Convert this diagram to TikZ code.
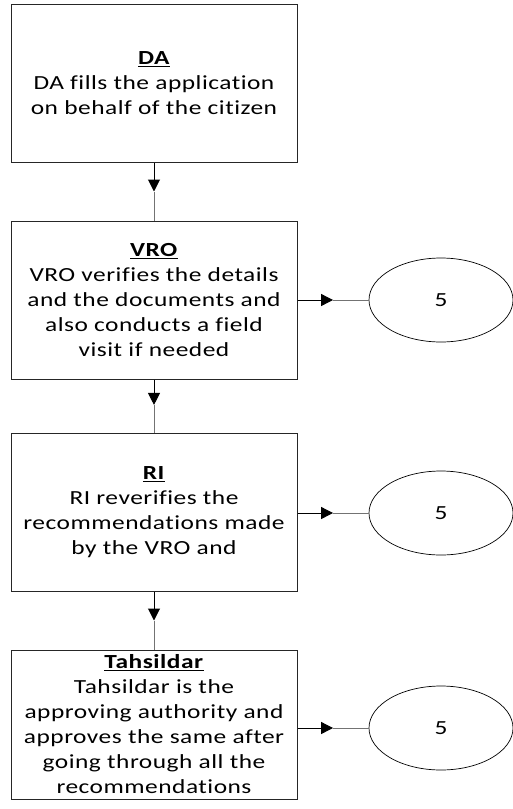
\documentclass[tikz,border=0pt]{standalone}
\usepackage{fontspec}
\setmainfont{Carlito}[FakeStretch=1.27,LetterSpace=2.5,Ligatures=NoCommon]
\usetikzlibrary{arrows.meta,calc,shapes.geometric}
\begin{document}
\begin{tikzpicture}[x=1pt,y=-1pt,
  stepbox/.style={draw=black!85,line width=1pt,minimum width=286pt,inner sep=0pt,
    align=center,font=\fontsize{20}{25}\selectfont},
  endoval/.style={draw=black,line width=0.7pt,ellipse,minimum width=144pt,minimum height=84pt,inner sep=0pt,
    font=\fontsize{20}{25}\selectfont},
  headpart/.style={black,line width=1pt,-{Triangle[length=12pt,width=12pt]}},
  tailpart/.style={black!55,line width=0.8pt}]
\useasboundingbox (0,0) rectangle (513,809);
\node[stepbox,minimum height=158pt] (da) at (154,83) {\underline{\textbf{DA}}\\DA fills the application\\on behalf of the citizen};
\node[stepbox,minimum height=158pt] (vro) at (154,300) {\underline{\textbf{VRO}}\\VRO verifies the details\\and the documents and\\also conducts a field\\visit if needed};
\node[stepbox,minimum height=158pt] (ri) at (154,512) {\underline{\textbf{RI}}\\RI reverifies the\\recommendations made\\by the VRO and};
\node[stepbox,minimum height=149pt] (tah) at (154,724.5) {\underline{\textbf{Tahsildar}}\\Tahsildar is the\\approving authority and\\approves the same after\\going through all the\\recommendations};
\node[endoval] (e1) at (441,300) {5};
\node[endoval] (e2) at (441,513) {5};
\node[endoval] (e3) at (441,728) {5};
% vertical connectors
\coordinate (m1) at ($(da.south)!0.5!(vro.north)$);
\draw[headpart] (da.south) -- (m1);
\draw[tailpart] (m1) -- (vro.north);
\coordinate (m2) at ($(vro.south)!0.48!(ri.north)$);
\draw[headpart] (vro.south) -- (m2);
\draw[tailpart] (m2) -- (ri.north);
\coordinate (m3) at ($(ri.south)!0.5!(tah.north)$);
\draw[headpart] (ri.south) -- (m3);
\draw[tailpart] (m3) -- (tah.north);
% horizontal connectors
\coordinate (v0) at (vro.east |- e1.west);
\coordinate (h1) at ($(v0)!0.5!(e1.west)$);
\draw[headpart] (v0) -- (h1);
\draw[tailpart] (h1) -- (e1.west);
\coordinate (r0) at (ri.east |- e2.west);
\coordinate (h2) at ($(r0)!0.5!(e2.west)$);
\draw[headpart] (r0) -- (h2);
\draw[tailpart] (h2) -- (e2.west);
\coordinate (t0) at (tah.east |- e3.west);
\coordinate (h3) at ($(t0)!0.5!(e3.west)$);
\draw[headpart] (t0) -- (h3);
\draw[tailpart] (h3) -- (e3.west);
\end{tikzpicture}
\end{document}
